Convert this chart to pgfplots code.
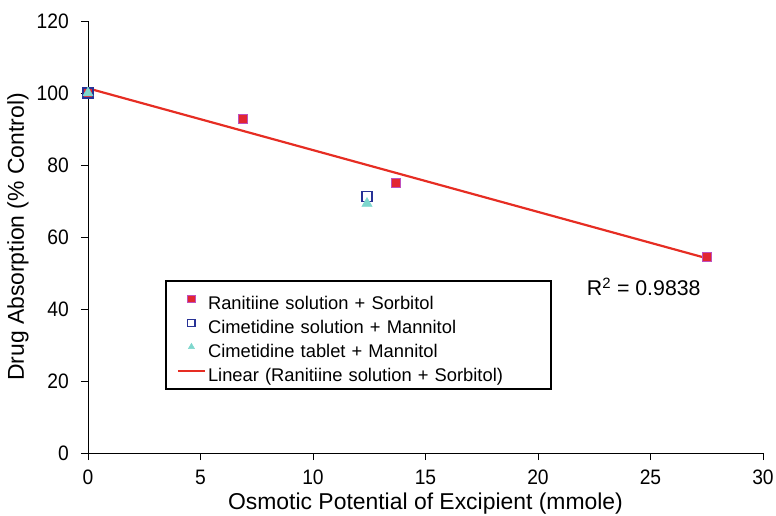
\documentclass[border=0pt]{standalone}
\usepackage{pgfplots}
\pgfplotsset{compat=1.18}
\usepackage{fontspec}
\setmainfont{Liberation Sans}
\newfontfamily\tickfont[FakeStretch=0.92]{Liberation Sans}

\definecolor{ranred}{RGB}{226,38,50}
\definecolor{ranedge}{RGB}{190,80,190}
\definecolor{cimblue}{RGB}{40,50,150}
\definecolor{tabcyan}{RGB}{125,215,205}
\definecolor{fitred}{RGB}{230,45,35}

\begin{document}
\begin{tikzpicture}
\begin{axis}[
    scale only axis,
    width=675bp, height=432bp,
    xmin=0, xmax=30, ymin=0, ymax=120,
    xtick={0,5,...,30}, ytick={0,20,...,120},
    axis lines=left,
    axis line style={-, line width=1pt},
    tick style={black, line width=0.9pt},
    tick align=outside,
    major tick length=7bp,
    tick label style={font=\tickfont\fontsize{21}{24}\selectfont},
    xticklabel style={anchor=center, yshift=-17bp},
    yticklabel style={anchor=east, inner sep=0pt, xshift=-12bp},
    /pgf/number format/assume math mode=true,
    xlabel={Osmotic Potential of Excipient (mmole)},
    ylabel={Drug Absorption (\% Control)},
    label style={font=\fontsize{23}{26}\selectfont},
    xlabel style={at={(axis description cs:0.5,-0.118)}, anchor=center},
    ylabel style={at={(axis description cs:-0.1037,0.5)}, anchor=center},
    clip=false,
    legend cell align=left,
    legend style={at={(axis description cs:0.114,0.4005)}, anchor=north west,
      draw=black, line width=1.8pt,
      font=\fontsize{18.4}{22}\selectfont,
      nodes={text width=330bp, align=left, inner ysep=0pt,
        text height=26bp, text depth=4bp},
      inner xsep=11bp, inner ysep=3bp,
      row sep=-6bp,
      /tikz/every even column/.append style={column sep=3pt}},
    legend image code/.code={%
      \draw[mark repeat=2, mark phase=2]
        plot coordinates {(0bp,0bp) (13.5bp,0bp) (27bp,0bp)};},
    legend image post style={mark size=3.6bp},
  ]
\addplot[only marks, mark=square*, mark size=4.6bp,
  mark options={fill=ranred, draw=ranedge, line width=0.9pt}]
  coordinates {(0,100) (6.9,92.8) (13.7,75) (27.5,54.4)};
\addplot[only marks, mark=square, mark size=5bp,
  mark options={draw=cimblue, line width=1.2pt}]
  coordinates {(0,100) (12.4,71.3)};
\addplot[only marks, mark=triangle*, mark size=6bp,
  mark options={fill=tabcyan, draw=tabcyan, line width=0.4pt}]
  coordinates {(0,100) (12.4,69.3)};
\addplot[draw=fitred, color=fitred, line width=2.2pt]
  coordinates {(0,101.3) (27.5,54.1)};
\legend{Ranitiine solution + Sorbitol,
  Cimetidine solution + Mannitol,
  Cimetidine tablet + Mannitol,
  Linear (Ranitiine solution + Sorbitol)}
\node[font=\fontsize{21.4}{24}\selectfont] at (axis cs:24.7,46.1) {R\textsuperscript{2} = 0.9838};
\end{axis}
\pgfresetboundingbox
\path ([shift={(-88bp,-63bp)}]current axis.south west) rectangle ([shift={(13bp,21bp)}]current axis.north east);
\end{tikzpicture}
\end{document}
